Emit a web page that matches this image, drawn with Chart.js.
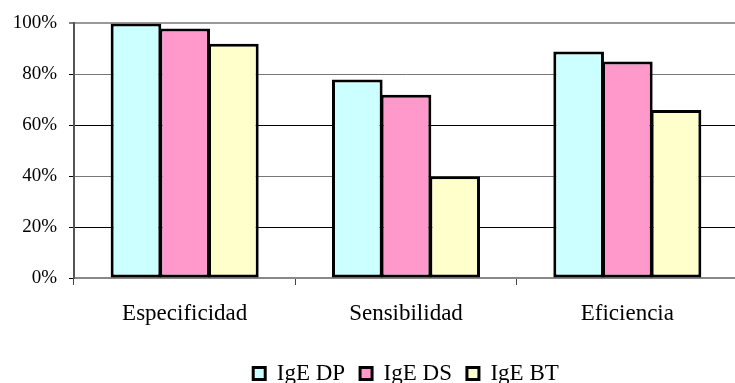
<!DOCTYPE html>
<html>
<head>
<meta charset="utf-8">
<script src="https://cdn.jsdelivr.net/npm/chart.js@4/dist/chart.umd.min.js"></script>
<style>
  html, body { margin: 0; padding: 0; overflow: hidden; background: #fff; width: 735px; height: 383px; }
  #wrap { position: absolute; left: 0; top: 0; width: 817px; height: 395px; }
</style>
</head>
<body>
<div id="wrap"><canvas id="c" width="817" height="395"></canvas></div>
<script>
const categories = ["Especificidad", "Sensibilidad", "Eficiencia"];
const seriesNames = ["IgE DP", "IgE DS", "IgE BT"];
const igeDP = [100, 78, 89];
const igeDS = [98, 72, 85];
const igeBT = [92, 40, 66];
const yTicks = [0, 20, 40, 60, 80, 100];

const colors = ["#CCFFFF", "#FF99CC", "#FFFFCC"];
const values = [igeDP, igeDS, igeBT];

const font = 'Liberation Serif, "Times New Roman", serif';

new Chart(document.getElementById('c'), {
  type: 'bar',
  data: {
    labels: categories,
    datasets: seriesNames.map((name, i) => ({
      label: name,
      data: values[i],
      backgroundColor: colors[i],
      borderColor: '#000',
      borderWidth: 3,
      borderSkipped: false,
      categoryPercentage: 0.66,
      barPercentage: 1.04
    }))
  },
  options: {
    responsive: false,
    animation: false,
    devicePixelRatio: 1,
    layout: { padding: { top: 22, right: 79, bottom: 0, left: 0 } },
    plugins: {
      legend: {
        position: 'bottom',
        fullSize: false,
        labels: {
          font: { family: font, size: 23 },
          color: '#000',
          boxWidth: 12,
          boxHeight: 12,
          padding: 15
        }
      },
      tooltip: { enabled: false }
    },
    scales: {
      x: {
        afterFit: s => { s.height = 69; },
        grid: {
          display: true,
          drawOnChartArea: false,
          drawTicks: true,
          tickLength: 7,
          color: '#444',
          lineWidth: 1,
          offset: true
        },
        border: { color: '#888', width: 2 },
        ticks: {
          font: { family: font, size: 23 },
          color: '#000',
          padding: 15,
          maxRotation: 0
        }
      },
      y: {
        min: 0,
        max: 100,
        afterFit: s => { s.width = 74; },
        afterBuildTicks: s => { s.ticks = yTicks.map(v => ({ value: v })); },
        grid: {
          color: c => (c.tick && c.tick.value === 100) ? '#999' : ((c.tick && c.tick.value % 40 === 0) ? '#777' : '#000'),
          lineWidth: c => (c.tick && c.tick.value === 100) ? 2 : 1,
          tickColor: '#000',
          tickLength: 5,
          tickWidth: 1
        },
        border: { color: '#555', width: 2 },
        ticks: {
          font: { family: font, size: 19 },
          color: '#000',
          padding: 12,
          callback: v => v + '%'
        }
      }
    }
  }
});
</script>
</body>
</html>
